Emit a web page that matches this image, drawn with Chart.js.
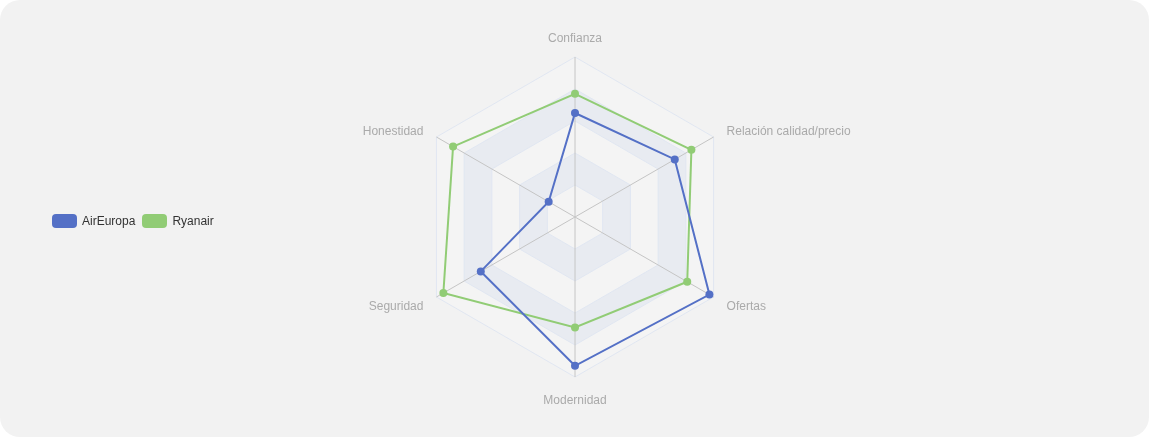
<!DOCTYPE html>
<html>
<head>
<meta charset="utf-8">
<script src="https://cdn.jsdelivr.net/npm/chart.js@4.4.1/dist/chart.umd.min.js"></script>
<style>
  html, body { margin: 0; padding: 0; background: #ffffff; }
  .card {
    position: absolute; left: 0; top: 0; width: 1149px; height: 437px;
    background: #f2f2f2; border-radius: 20px; overflow: hidden;
  }
  .chart-box { position: absolute; left: 0; top: 0; width: 1149px; height: 437px; }
  .legend {
    position: absolute; left: 52px; top: 214px;
    display: flex; align-items: center;
    font-family: "Liberation Sans", Arial, sans-serif; font-size: 12px; color: #333;
  }
  .legend-item { display: flex; align-items: center; margin-right: 7px; }
  .legend-swatch { width: 25px; height: 14px; border-radius: 4px; margin-right: 5px; }
</style>
</head>
<body>
<div class="card">
  <div class="chart-box"><canvas id="radarChart"></canvas></div>
  <div class="legend" id="legend"></div>
</div>
<script>
const indicators = ["Confianza", "Relación calidad/precio", "Ofertas", "Modernidad", "Seguridad", "Honestidad"];
const airEuropa = [6.5, 7.2, 9.7, 9.3, 6.8, 1.9];
const ryanair = [7.7, 8.4, 8.1, 6.9, 9.5, 8.8];
const seriesNames = ["AirEuropa", "Ryanair"];
const seriesColors = ["#5470c6", "#91cc75"];
const ringValues = [0, 2, 4, 6, 8, 10];

const legend = document.getElementById("legend");
legend.innerHTML = seriesNames.map((name, i) => `
  <div class="legend-item">
    <span class="legend-swatch" style="background:${seriesColors[i]}"></span>
    <span>${name}</span>
  </div>
`).join("");

// alternating bands between rings, drawn before the grid
const splitAreaPlugin = {
  id: "splitArea",
  beforeDraw(chart) {
    const scale = chart.scales.r;
    const ctx = chart.ctx;
    const n = indicators.length;
    const fills = ["rgba(250,250,250,0.3)", "rgba(210,219,238,0.3)"];
    for (let k = ringValues.length - 1; k > 0; k--) {
      const outer = scale.getDistanceFromCenterForValue(ringValues[k]);
      const inner = scale.getDistanceFromCenterForValue(ringValues[k - 1]);
      ctx.save();
      ctx.beginPath();
      for (let i = 0; i < n; i++) {
        const p = scale.getPointPosition(i, outer);
        i === 0 ? ctx.moveTo(p.x, p.y) : ctx.lineTo(p.x, p.y);
      }
      ctx.closePath();
      for (let i = n - 1; i >= 0; i--) {
        const p = scale.getPointPosition(i, inner);
        i === n - 1 ? ctx.moveTo(p.x, p.y) : ctx.lineTo(p.x, p.y);
      }
      ctx.closePath();
      ctx.fillStyle = fills[(k - 1) % 2];
      ctx.fill("evenodd");
      ctx.restore();
    }
  },
};

// indicator names, placed like echarts does (gap 15, aligned by side)
const indicatorLabelPlugin = {
  id: "indicatorLabels",
  afterDraw(chart) {
    const scale = chart.scales.r;
    const ctx = chart.ctx;
    const r = scale.drawingArea + 15;
    ctx.save();
    ctx.font = "12px 'Liberation Sans', Arial, sans-serif";
    ctx.fillStyle = "#aaaaaa";
    indicators.forEach((name, i) => {
      const p = scale.getPointPosition(i, r);
      const dx = p.x - scale.xCenter;
      const dy = p.y - scale.yCenter;
      ctx.textAlign = Math.abs(dx) < 1 ? "center" : dx > 0 ? "left" : "right";
      ctx.textBaseline = Math.abs(dx) >= 1 ? "middle" : dy < 0 ? "bottom" : "top";
      ctx.fillText(name, p.x, p.y + 2.5);
    });
    ctx.restore();
  },
};

new Chart(document.getElementById("radarChart"), {
  type: "radar",
  data: {
    labels: indicators,
    datasets: [
      {
        label: seriesNames[0],
        data: airEuropa,
        borderColor: seriesColors[0],
        backgroundColor: seriesColors[0],
        borderWidth: 2,
        fill: false,
        pointRadius: 4,
        pointBackgroundColor: seriesColors[0],
        pointBorderWidth: 0,
      },
      {
        label: seriesNames[1],
        data: ryanair,
        borderColor: seriesColors[1],
        backgroundColor: seriesColors[1],
        borderWidth: 2,
        fill: false,
        pointRadius: 4,
        pointBackgroundColor: seriesColors[1],
        pointBorderWidth: 0,
      },
    ],
  },
  options: {
    responsive: true,
    maintainAspectRatio: false,
    animation: false,
    layout: { padding: { left: 200, right: 199, top: 57, bottom: 59 } },
    elements: { line: { tension: 0 } },
    plugins: {
      legend: { display: false },
      tooltip: { enabled: false },
    },
    scales: {
      r: {
        min: 0,
        max: 10,
        ticks: { display: false, stepSize: 2 },
        grid: { color: "#e0e6f1", lineWidth: 1 },
        angleLines: { color: "#c4c4c4", lineWidth: 1 },
        pointLabels: { display: false },
      },
    },
  },
  plugins: [splitAreaPlugin, indicatorLabelPlugin],
});
</script>
</body>
</html>
